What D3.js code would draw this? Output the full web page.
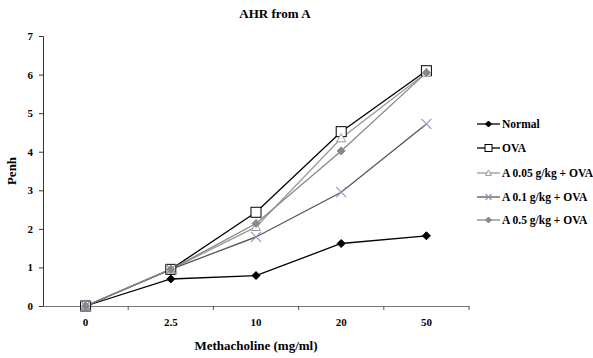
<!DOCTYPE html>
<html>
<head>
<meta charset="utf-8">
<script src="https://cdn.jsdelivr.net/npm/d3@7"></script>
<style>
  body { margin: 0; background: #fff; }
  text { font-family: "Liberation Serif", "Times New Roman", serif; font-weight: bold; }
</style>
</head>
<body>
<div id="chart"></div>
<script>
// Chart data
const doses = ['0', '2.5', '10', '20', '50'];
const seriesNames = ['Normal', 'OVA', 'A 0.05 g/kg + OVA', 'A 0.1 g/kg + OVA', 'A 0.5 g/kg + OVA'];
const normalVals = [0, 0.70, 0.79, 1.62, 1.82];
const ovaVals = [0, 0.95, 2.43, 4.52, 6.10];
const a005Vals = [0, 0.95, 2.05, 4.35, 6.05];
const a01Vals = [0, 0.95, 1.79, 2.95, 4.72];
const a05Vals = [0, 0.95, 2.14, 4.02, 6.05];
const yTicks = [0, 1, 2, 3, 4, 5, 6, 7];

const width = 593, height = 358;
const margin = { left: 43, right: 124, top: 36, bottom: 52 };

const svg = d3.select('#chart').append('svg')
    .attr('width', width)
    .attr('height', height);

const x = d3.scaleBand()
    .domain(doses)
    .range([margin.left, width - margin.right]);
const y = d3.scaleLinear()
    .domain([0, 7])
    .range([height - margin.bottom, margin.top]);

// Series styles
const styles = [
    { line: '#000', marker: 'diamond', fill: '#000', stroke: '#000', width: 1.3 },
    { line: '#000', marker: 'square', fill: '#fff', stroke: '#000', width: 1.3 },
    { line: '#999', marker: 'triangle', fill: '#fff', stroke: '#999', width: 1.3 },
    { line: '#555', marker: 'cross', fill: 'none', stroke: '#9a8cc0', width: 1.3 },
    { line: '#888', marker: 'diamond', fill: '#888', stroke: '#888', width: 1.3 }
];
const allVals = [normalVals, ovaVals, a005Vals, a01Vals, a05Vals];

// Title
svg.append('text')
    .attr('x', 275).attr('y', 18)
    .attr('text-anchor', 'middle')
    .attr('font-size', 13)
    .text('AHR from A');

// Y axis
const yAxis = svg.append('g')
    .attr('transform', `translate(${margin.left},0)`)
    .call(d3.axisLeft(y).tickValues(yTicks).tickSize(4).tickPadding(6).tickFormat(d3.format('d')));
yAxis.selectAll('text').attr('font-size', 11).attr('fill', '#000').attr('font-family', 'Liberation Serif').attr('font-weight', 'bold');
yAxis.select('.domain').attr('stroke', '#333');
yAxis.selectAll('.tick line').attr('stroke', '#333');

// X axis
const xAxis = svg.append('g')
    .attr('transform', `translate(0,${y(0)})`)
    .call(d3.axisBottom(x).tickSize(0).tickPadding(12));
xAxis.selectAll('text').attr('font-size', 11).attr('fill', '#000').attr('font-family', 'Liberation Serif').attr('font-weight', 'bold');
xAxis.select('.domain').attr('stroke', '#777').attr('stroke-width', 1.2);
// boundary ticks between categories
const bounds = doses.map(d => x(d)).concat([x(doses[doses.length - 1]) + x.bandwidth()]);
xAxis.selectAll('.btick')
    .data(bounds.slice(1))
    .enter().append('line')
    .attr('x1', d => d).attr('x2', d => d)
    .attr('y1', 0).attr('y2', 4)
    .attr('stroke', '#555');

// Axis titles
svg.append('text')
    .attr('transform', `translate(16,${(y(0) + y(7)) / 2}) rotate(-90)`)
    .attr('text-anchor', 'middle')
    .attr('font-size', 13)
    .text('Penh');
svg.append('text')
    .attr('x', (margin.left + width - margin.right) / 2)
    .attr('y', 350)
    .attr('text-anchor', 'middle')
    .attr('font-size', 13)
    .text('Methacholine (mg/ml)');

const cx = d => x(d) + x.bandwidth() / 2;

function drawMarker(g, type, st, px, py, s) {
    if (type === 'diamond') {
        g.append('path')
            .attr('d', `M${px},${py - s}L${px + s},${py}L${px},${py + s}L${px - s},${py}Z`)
            .attr('fill', st.fill).attr('stroke', st.stroke);
    } else if (type === 'square') {
        g.append('rect')
            .attr('x', px - s).attr('y', py - s)
            .attr('width', 2 * s).attr('height', 2 * s)
            .attr('fill', st.fill).attr('stroke', st.stroke).attr('stroke-width', 1);
    } else if (type === 'triangle') {
        g.append('path')
            .attr('d', `M${px},${py - s}L${px + s},${py + s * 0.8}L${px - s},${py + s * 0.8}Z`)
            .attr('fill', st.fill).attr('stroke', st.stroke);
    } else if (type === 'cross') {
        g.append('path')
            .attr('d', `M${px - s},${py - s}L${px + s},${py + s}M${px - s},${py + s}L${px + s},${py - s}`)
            .attr('stroke', st.stroke).attr('stroke-width', 1.1).attr('fill', 'none');
    }
}

const markerSize = [4, 5, 4.5, 5, 4];

// Lines and markers
allVals.forEach((vals, i) => {
    const st = styles[i];
    const line = d3.line().x((d, j) => cx(doses[j])).y(d => y(d));
    svg.append('path')
        .datum(vals)
        .attr('d', line)
        .attr('fill', 'none')
        .attr('stroke', st.line)
        .attr('stroke-width', st.width);
});
allVals.forEach((vals, i) => {
    const g = svg.append('g');
    vals.forEach((v, j) => drawMarker(g, styles[i].marker, styles[i], cx(doses[j]), y(v), markerSize[i]));
});

// Legend
const legendY = [124, 148, 173, 197, 220];
seriesNames.forEach((name, i) => {
    const st = styles[i];
    const g = svg.append('g');
    const ly = legendY[i];
    g.append('line')
        .attr('x1', 477).attr('x2', 500)
        .attr('y1', ly).attr('y2', ly)
        .attr('stroke', st.line).attr('stroke-width', 1.3);
    drawMarker(g, st.marker, st, 488.5, ly, i === 1 ? 3.5 : 3);
    g.append('text')
        .attr('x', 502).attr('y', ly + 4)
        .attr('font-size', 11.5)
        .text(name);
});
</script>
</body>
</html>
